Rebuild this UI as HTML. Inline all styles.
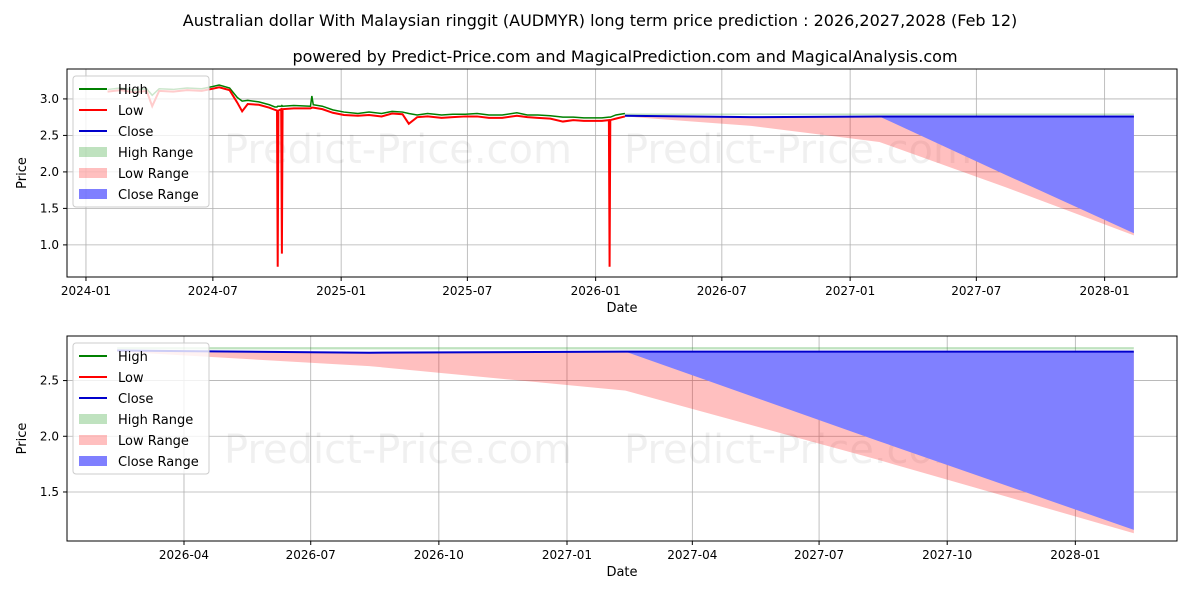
<!DOCTYPE html>
<html><head><meta charset="utf-8"><style>
body{margin:0;background:#fff;font-family:"Liberation Sans","DejaVu Sans",sans-serif}
svg text{font-family:"DejaVu Sans","Liberation Sans",sans-serif;fill:#000}
</style></head><body>
<svg id="c" width="1200" height="600" viewBox="0 0 1200 600"></svg>
<script>
const histDates=["2024-02-01","2024-02-20","2024-03-10","2024-03-28","2024-04-05","2024-04-15","2024-05-05","2024-05-25","2024-06-15","2024-07-01","2024-07-10","2024-07-25","2024-08-05","2024-08-12","2024-08-20","2024-09-05","2024-09-20","2024-09-28","2024-10-01","2024-10-02","2024-10-03","2024-10-07","2024-10-08","2024-10-09","2024-10-25","2024-11-18","2024-11-20","2024-11-22","2024-12-05","2024-12-20","2025-01-05","2025-01-25","2025-02-10","2025-02-28","2025-03-15","2025-03-30","2025-04-08","2025-04-20","2025-05-05","2025-05-25","2025-06-10","2025-06-28","2025-07-15","2025-08-01","2025-08-20","2025-09-10","2025-09-25","2025-10-10","2025-10-28","2025-11-15","2025-11-30","2025-12-15","2026-01-10","2026-01-20","2026-01-21","2026-01-22","2026-01-30","2026-02-12"];
const histHigh=[3.13,3.15,3.12,3.14,3.05,3.14,3.13,3.15,3.14,3.17,3.19,3.15,3.02,2.97,2.98,2.96,2.92,2.89,2.89,2.90,2.90,2.90,2.91,2.90,2.91,2.90,3.04,2.92,2.90,2.85,2.82,2.80,2.82,2.80,2.83,2.82,2.80,2.78,2.80,2.78,2.79,2.79,2.80,2.78,2.78,2.81,2.78,2.78,2.77,2.75,2.75,2.74,2.74,2.75,2.75,2.75,2.78,2.80];
const histLow=[3.10,3.12,3.09,3.11,2.90,3.11,3.10,3.12,3.11,3.14,3.16,3.12,2.95,2.83,2.93,2.92,2.88,2.85,2.84,0.70,2.84,2.86,0.88,2.86,2.87,2.87,2.88,2.88,2.86,2.81,2.78,2.77,2.78,2.76,2.80,2.79,2.66,2.75,2.76,2.74,2.75,2.76,2.76,2.74,2.74,2.77,2.75,2.74,2.73,2.69,2.71,2.70,2.70,2.71,0.70,2.71,2.73,2.76];
const predDates=["2026-02-12","2026-08-12","2027-02-12","2027-08-12","2028-02-12"];
const predClose=[2.77,2.75,2.76,2.76,2.76];
const highRangeTop=[2.80,2.80,2.80,2.80,2.80];
const highRangeBot=[2.78,2.78,2.78,2.78,2.78];
const lowRangeBot=[2.76,2.63,2.41,1.79,1.13];
const closeRangeBot=[2.77,2.75,2.76,1.96,1.16];
const topTicks=["2024-01","2024-07","2025-01","2025-07","2026-01","2026-07","2027-01","2027-07","2028-01"];
const botTicks=["2026-04","2026-07","2026-10","2027-01","2027-04","2027-07","2027-10","2028-01"];
const topY=[1.0,1.5,2.0,2.5,3.0];
const botY=[1.5,2.0,2.5];

const NS="http://www.w3.org/2000/svg";
const svg=document.getElementById('c');
function mk(t,a,p){const e=document.createElementNS(NS,t);for(const k in a)e.setAttribute(k,a[k]);(p||svg).appendChild(e);return e;}
function day(s){if(s.length===7)s+="-01";return Date.parse(s+"T00:00:00Z")/864e5;}
function txt(x,y,s,o){const e=mk('text',Object.assign({x:x,y:y,'font-size':13},o||{}));e.textContent=s;return e;}

const t1=txt(600,26,"Australian dollar With Malaysian ringgit (AUDMYR) long term price prediction : 2026,2027,2028 (Feb 12)",{'text-anchor':'middle','font-size':16});

const t2=txt(625,62,"powered by Predict-Price.com and MagicalPrediction.com and MagicalAnalysis.com",{'text-anchor':'middle','font-size':16});


function panel(name,L,T,R,B,d0,d1,v0,v1,ticks,yt,showHist,wy){
  const g=mk('g',{});
  
  
  const X=d=>L+(day(d)-d0)/(d1-d0)*(R-L);
  const Y=v=>B-(v-v0)/(v1-v0)*(B-T);
  const clip=name+'-clip';
  const cp=mk('clipPath',{id:clip},g);mk('rect',{x:L,y:T,width:R-L,height:B-T},cp);
  ticks.forEach(t=>{const x=X(t);mk('line',{x1:x,x2:x,y1:T,y2:B,stroke:'#b0b0b0','stroke-width':0.8},g);mk('line',{x1:x,x2:x,y1:B,y2:B+4,stroke:'#000'},g);const e=txt(x,B+18,t,{'text-anchor':'middle','font-size':12});g.appendChild(e);});
  yt.forEach(v=>{const y=Y(v);mk('line',{x1:L,x2:R,y1:y,y2:y,stroke:'#b0b0b0','stroke-width':0.8},g);mk('line',{x1:L-4,x2:L,y1:y,y2:y,stroke:'#000'},g);const e=txt(L-8,y+4,v.toFixed(1),{'text-anchor':'end','font-size':12});g.appendChild(e);});
  [398,798].forEach(wx=>{const w1=txt(wx,wy,"Predict-Price.com",{'text-anchor':'middle','font-size':40,fill:'#000','fill-opacity':0.06});g.appendChild(w1);
  });
  const dg=mk('g',{'clip-path':'url(#'+clip+')'},g);
  function band(top,bot,col,op,nm){let p=predDates.map((d,i)=>X(d)+','+Y(top[i])).join(' ')+' '+predDates.map((d,i)=>X(d)+','+Y(bot[i])).reverse().join(' ');const e=mk('polygon',{points:p,fill:col,'fill-opacity':op},dg);}
  band(highRangeTop,highRangeBot,'#2ca02c',0.3,'high-range-band');
  band(predClose,lowRangeBot,'#ff0000',0.25,'low-range-band');
  band(predClose,closeRangeBot,'#8080ff',1,'close-range-band');
  if(showHist){
    const ph=mk('polyline',{points:histDates.map((d,i)=>X(d)+','+Y(histHigh[i])).join(' '),fill:'none',stroke:'#008000','stroke-width':1.5},dg);
    
    const pl=mk('polyline',{points:histDates.map((d,i)=>X(d)+','+Y(histLow[i])).join(' '),fill:'none',stroke:'#ff0000','stroke-width':2},dg);
    
  }
  const pc=mk('polyline',{points:predDates.map((d,i)=>X(d)+','+Y(predClose[i])).join(' '),fill:'none',stroke:'#0000cc','stroke-width':2},dg);
  
  mk('rect',{x:L,y:T,width:R-L,height:B-T,fill:'none',stroke:'#000','stroke-width':1},g);
  const xl=txt((L+R)/2,B+35,"Date",{'text-anchor':'middle'});g.appendChild(xl);
  const yl=txt(0,0,"Price",{'text-anchor':'middle',transform:'translate(26,'+((T+B)/2)+') rotate(-90)'});g.appendChild(yl);
  const lg=mk('g',{},g);
  mk('rect',{x:L+6,y:T+7,width:136,height:131,rx:3,fill:'#fff','fill-opacity':0.8,stroke:'#ccc'},lg);
  const items=[['High','line','#008000'],['Low','line','#ff0000'],['Close','line','#0000cc'],['High Range','patch','rgba(44,160,44,0.3)'],['Low Range','patch','rgba(255,0,0,0.25)'],['Close Range','patch','rgba(0,0,255,0.5)']];
  items.forEach((it,i)=>{const y=T+20+i*21;
    if(it[1]==='line')mk('line',{x1:L+12,x2:L+40,y1:y,y2:y,stroke:it[2],'stroke-width':2},lg);
    else mk('rect',{x:L+12,y:y-5,width:28,height:10,fill:it[2]},lg);
    const e=txt(L+51,y+5,it[0]);lg.appendChild(e);});
}
panel('top-panel',67,69,1177,277,day("2024-01-01")-27.2,day("2028-01-01")+103.8,0.56,3.41,topTicks,topY,true,163);
panel('bottom-panel',67,336,1177,541,day("2026-04-01")-84,day("2028-01-01")+73,1.06,2.90,botTicks,botY,false,463);
</script>
</body></html>
